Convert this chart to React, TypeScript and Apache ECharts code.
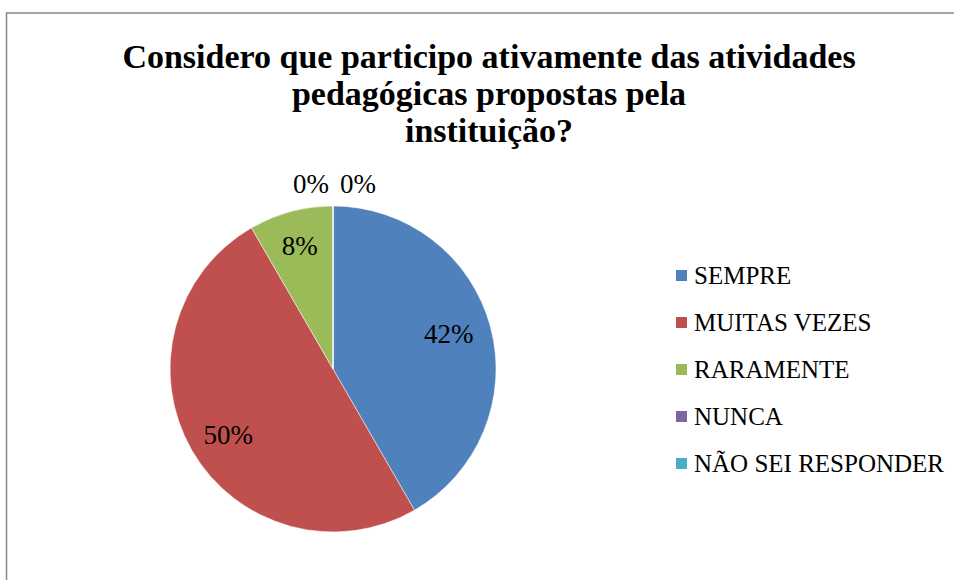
import React, { useEffect, useRef } from "react";
import * as echarts from "echarts";

const titleLines = [
  "Considero que participo ativamente das atividades",
  "pedagógicas propostas pela",
  "instituição?",
];
const categories = ["SEMPRE", "MUITAS VEZES", "RARAMENTE", "NUNCA", "NÃO SEI RESPONDER"];
const values = [5, 6, 1, 0, 0];
const colors = ["#4F81BD", "#C0504D", "#9BBB59", "#8064A2", "#4BACC6"];
const labelOffsets = [
  [-8, -2],
  [6, 2],
  [0, 1],
  [-22, -57],
  [25, -57],
];

const FONT = "'Liberation Serif', 'DejaVu Serif', serif";

export default function App() {
  const ref = useRef<HTMLDivElement>(null);
  useEffect(() => {
    document.body.style.margin = "0";
    const chart = echarts.init(ref.current!, null, { renderer: "svg" });
    const labelData = categories.map((name, i) => ({
      name,
      value: values[i],
      label: { offset: labelOffsets[i] },
    }));
    chart.setOption({
      animation: false,
      color: colors,
      title: {
        text: titleLines.join("\n"),
        left: 489,
        top: 38,
        padding: 0,
        textAlign: "center",
        textStyle: {
          fontFamily: FONT,
          fontWeight: "bold",
          fontSize: 34,
          lineHeight: 37,
          color: "#000",
        },
      },
      legend: {
        orient: "vertical",
        left: 674,
        top: 263,
        padding: 0,
        itemWidth: 13,
        itemHeight: 13,
        itemGap: 22,
        icon: "rect",
        data: categories,
        textStyle: { fontFamily: FONT, fontSize: 25, lineHeight: 24, color: "#000", padding: [0, 0, 0, 1] },
      },
      graphic: [
        {
          type: "rect",
          shape: { x: 6.5, y: 13, width: 1200, height: 1200 },
          style: { fill: "none", stroke: "#898989", lineWidth: 1.5 },
          silent: true,
          z: -1,
        },
      ],
      series: [
        {
          type: "pie",
          center: [333, 369],
          radius: [0, 163],
          startAngle: 90,
          clockwise: true,
          label: { show: false },
          labelLine: { show: false },
          itemStyle: { borderColor: "#ffffff", borderWidth: 0.5 },
          emphasis: { disabled: true },
          data: categories.map((name, i) => ({ name, value: values[i] })),
        },
        {
          type: "pie",
          center: [333, 369],
          radius: [87, 163],
          startAngle: 90,
          clockwise: true,
          silent: true,
          avoidLabelOverlap: false,
          percentPrecision: 0,
          itemStyle: { color: "rgba(0,0,0,0)" },
          label: {
            show: true,
            position: "inside",
            formatter: "{d}%",
            fontFamily: FONT,
            fontSize: 27,
            color: "#000",
          },
          labelLine: { show: false },
          emphasis: { disabled: true },
          legendHoverLink: false,
          data: labelData,
        },
      ],
    });
    return () => chart.dispose();
  }, []);
  return <div ref={ref} style={{ width: 954, height: 580 }} />;
}
